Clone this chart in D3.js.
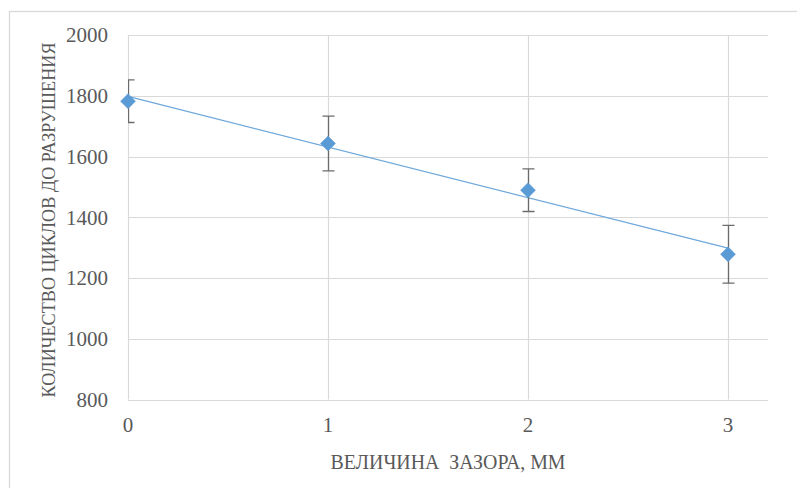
<!DOCTYPE html>
<html>
<head>
<meta charset="utf-8">
<script src="https://cdn.jsdelivr.net/npm/d3@7"></script>
<style>
  html, body { margin: 0; padding: 0; background: #fff; }
  svg { display: block; }
</style>
</head>
<body>
<svg id="chart" width="797" height="488"></svg>
<script>
// ---- data ----
const gapMm = [0, 1, 2, 3];
const cycles = [1782, 1643, 1489, 1278];
const errors = [70, 90, 70, 95];
const yTicks = [800, 1000, 1200, 1400, 1600, 1800, 2000];
const xTicks = [0, 1, 2, 3];
const xTitle = "ВЕЛИЧИНА  ЗАЗОРА, ММ";
const yTitle = "КОЛИЧЕСТВО ЦИКЛОВ ДО РАЗРУШЕНИЯ";

const svg = d3.select("#chart");
const W = 797, H = 488;
const plot = { left: 128, right: 768, top: 35, bottom: 399.5 };

const x = d3.scaleLinear().domain([0, 3.2]).range([plot.left, plot.right]);
const y = d3.scaleLinear().domain([800, 2000]).range([plot.bottom, plot.top]);

const font = "Liberation Serif";
const textColor = "#595959";
const gridColor = "#d9d9d9";
const blue = "#5B9BD5";

svg.append("rect").attr("width", W).attr("height", H).attr("fill", "#fff");
// outer chart border
svg.append("rect").attr("x", 9.5).attr("y", 11.5).attr("width", 900).attr("height", 600)
  .attr("fill", "none").attr("stroke", gridColor).attr("stroke-width", 1.3);

// horizontal grid
svg.append("g").selectAll("line").data(yTicks).join("line")
  .attr("x1", plot.left).attr("x2", plot.right)
  .attr("y1", d => Math.round(y(d)) + 0.5).attr("y2", d => Math.round(y(d)) + 0.5)
  .attr("stroke", gridColor).attr("stroke-width", 1.2);
// vertical grid
svg.append("g").selectAll("line").data(xTicks).join("line")
  .attr("x1", d => Math.round(x(d)) + 0.5).attr("x2", d => Math.round(x(d)) + 0.5)
  .attr("y1", plot.top).attr("y2", plot.bottom)
  .attr("stroke", gridColor).attr("stroke-width", 1.2);

// y tick labels
svg.append("g").selectAll("text").data(yTicks).join("text")
  .attr("x", 108).attr("y", d => y(d)).attr("dy", "0.35em")
  .attr("text-anchor", "end").attr("font-family", font).attr("font-size", 21)
  .attr("fill", textColor).text(d => d);
// x tick labels
svg.append("g").selectAll("text").data(xTicks).join("text")
  .attr("x", d => x(d)).attr("y", 425).attr("dy", "0.35em")
  .attr("text-anchor", "middle").attr("font-family", font).attr("font-size", 21)
  .attr("fill", textColor).text(d => d);

// axis titles
svg.append("text")
  .attr("x", 448).attr("y", 462).attr("dy", "0.35em")
  .attr("text-anchor", "middle").attr("font-family", font).attr("font-size", 20)
  .attr("fill", textColor).style("white-space", "pre")
  .attr("textLength", 235).attr("lengthAdjust", "spacingAndGlyphs")
  .text(xTitle);
svg.append("text")
  .attr("transform", "translate(49,220) rotate(-90)")
  .attr("dy", "0.35em")
  .attr("text-anchor", "middle").attr("font-family", font).attr("font-size", 18)
  .attr("fill", textColor)
  .attr("textLength", 355).attr("lengthAdjust", "spacingAndGlyphs")
  .text(yTitle);

// clip for error bars
svg.append("clipPath").attr("id", "plotclip").append("rect")
  .attr("x", plot.left).attr("y", plot.top - 20)
  .attr("width", plot.right - plot.left).attr("height", plot.bottom - plot.top + 40);

// linear trendline (least squares)
const mx = d3.mean(gapMm), my = d3.mean(cycles);
const slope = d3.sum(gapMm.map((g, i) => (g - mx) * (cycles[i] - my))) /
              d3.sum(gapMm.map(g => (g - mx) * (g - mx)));
const intercept = my - slope * mx;
const xr = d3.extent(gapMm);
svg.append("line")
  .attr("x1", x(xr[0])).attr("y1", y(intercept + slope * xr[0]))
  .attr("x2", x(xr[1])).attr("y2", y(intercept + slope * xr[1]))
  .attr("stroke", "#6FA8DC").attr("stroke-width", 1.2);

// error bars
const eb = svg.append("g").attr("clip-path", "url(#plotclip)")
  .attr("stroke", "#6b6b6b").attr("stroke-width", 1.3).attr("fill", "none");
gapMm.forEach((g, i) => {
  const cx = Math.round(x(g)) + 0.5;
  const yt = y(cycles[i] + errors[i]), yb = y(cycles[i] - errors[i]);
  eb.append("line").attr("x1", cx).attr("x2", cx).attr("y1", yt).attr("y2", yb);
  eb.append("line").attr("x1", cx - 6).attr("x2", cx + 6).attr("y1", yt).attr("y2", yt);
  eb.append("line").attr("x1", cx - 6).attr("x2", cx + 6).attr("y1", yb).attr("y2", yb);
});

// markers (diamonds)
svg.append("g").selectAll("path").data(gapMm).join("path")
  .attr("transform", (g, i) => `translate(${x(g)},${y(cycles[i])})`)
  .attr("d", "M0,-7.5L7.5,0L0,7.5L-7.5,0Z")
  .attr("fill", blue).attr("stroke", blue).attr("stroke-width", 0.5);
</script>
</body>
</html>
